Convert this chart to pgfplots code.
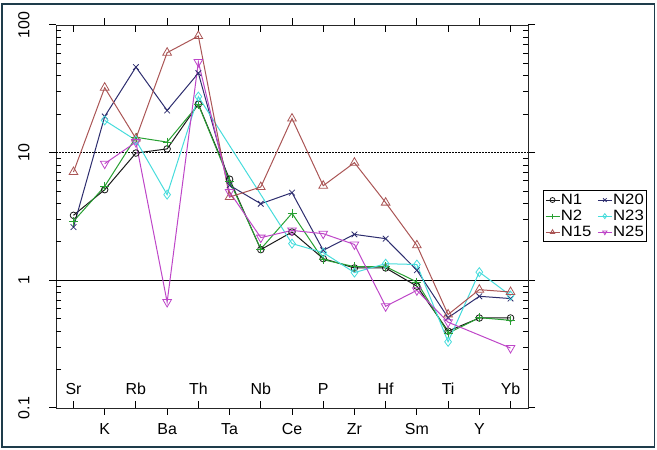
\documentclass[border=0pt]{standalone}
\usepackage{fontspec}
\setmainfont{Liberation Sans}
\newfontfamily\legfont{Liberation Sans}[FakeStretch=1.12]
\usepackage{pgfplots}
\pgfplotsset{compat=1.18}
\definecolor{cN1}{RGB}{25,25,25}
\definecolor{cN2}{RGB}{40,160,50}
\definecolor{cN15}{RGB}{170,85,85}
\definecolor{cN20}{RGB}{45,45,110}
\definecolor{cN23}{RGB}{70,220,220}
\definecolor{cN25}{RGB}{190,70,200}
\definecolor{frameC}{RGB}{30,60,75}
\begin{document}
\begin{tikzpicture}[x=1bp,y=1bp]
\useasboundingbox (0,0) rectangle (657,450);
\draw[frameC, line width=1.5bp] (2,3) rectangle (654.5,446);
\begin{axis}[
 at={(56bp,42bp)}, anchor=south west,
 scale only axis, width=472bp, height=383bp,
 xmin=0.44, xmax=15.56, ymode=log, ymin=0.1, ymax=100,
 font=\fontsize{16}{18}\selectfont,
 /pgf/number format/assume math mode=true,
 axis line style={line width=0.9bp, black!85},
 tick style={black, line width=1bp},
 tick align=outside,
 major tick length=7bp,
 xminorticks=false, yminorticks=false,
 xtick={2,4,...,14},
 xticklabels={K,Ba,Ta,Ce,Zr,Sm,Y},
 xticklabel style={yshift=-5bp},
 extra x ticks={1,3,...,15},
 extra x tick labels={Sr,Rb,Th,Nb,P,Hf,Ti,Yb},
 extra x tick style={major tick length=-7bp, xticklabel style={anchor=base, yshift=12bp}},
 ytick={0.1,1,10,100},
 yticklabels={0.1,1,10,100},
 yticklabel style={xshift=-16bp, rotate=90, anchor=south},
 extra y ticks={0.2,0.3,0.4,0.5,0.6,0.7,0.8,0.9,2,3,4,5,6,7,8,9,20,30,40,50,60,70,80,90},
 extra y tick labels={},
 extra y tick style={major tick length=-5bp},
 legend columns=2,
 legend style={at={(1.032,0.569)}, anchor=north west, draw=black, line width=0.8bp,
   inner sep=1.5bp, font=\fontsize{15}{15}\legfont,
   nodes={inner sep=0.8bp, text height=11.5bp, text depth=3bp},
   /tikz/every even column/.append style={column sep=5bp}},
 legend image code/.code={\draw[mark repeat=2,mark phase=2,mark size=2.5bp] plot coordinates {(0bp,0bp)(7bp,0bp)(14bp,0bp)};},
 legend cell align=left,
 every axis plot/.append style={line width=1bp},
]
\draw[black, line width=0.9bp, dash pattern=on 1.5bp off 1.5bp] (axis cs:0.44,10) -- (axis cs:15.56,10);
\draw[black, line width=1bp] (axis cs:0.44,1) -- (axis cs:15.56,1);
\addplot[cN1, mark=o, mark size=3.3bp, mark options={solid, line width=0.8bp}] coordinates {
(1,3.23)(2,5.13)(3,9.93)(4,10.7)(5,24)(6,6.2)(7,1.74)(8,2.39)(9,1.48)(10,1.25)(11,1.25)(12,0.90)(13,0.40)(14,0.507)(15,0.507)};
\addlegendentry{N1}
\addplot[cN20, mark=x, mark size=4bp, mark options={solid, line width=0.8bp}] coordinates {
(1,2.61)(2,19.2)(3,46.8)(4,21.4)(5,42)(6,5.55)(7,3.98)(8,4.86)(9,1.72)(10,2.29)(11,2.12)(12,1.2)(13,0.51)(14,0.75)(15,0.72)};
\addlegendentry{N20}
\addplot[cN2, mark=+, mark size=4.5bp, mark options={solid, line width=0.8bp}] coordinates {
(1,2.9)(2,5.45)(3,13.2)(4,12.1)(5,23.8)(6,6.0)(7,1.76)(8,3.35)(9,1.45)(10,1.28)(11,1.28)(12,0.97)(13,0.385)(14,0.51)(15,0.486)};
\addlegendentry{N2}
\addplot[cN23, mark=diamond, mark size=4.5bp, mark options={solid, line width=0.8bp}] coordinates {
(2,17.9)(3,12.5)(4,4.69)(5,27.5)(8,1.94)(9,1.65)(10,1.15)(11,1.35)(12,1.33)(13,0.33)(14,1.16)(15,0.76)};
\addlegendentry{N23}
\addplot[cN15, mark=triangle, mark size=5bp, mark options={solid, line width=0.8bp}] coordinates {
(1,7.05)(2,32.3)(3,12.9)(4,60.7)(5,81.9)(6,4.49)(7,5.38)(8,18.5)(9,5.51)(10,8.35)(11,4.06)(12,1.88)(13,0.54)(14,0.845)(15,0.81)};
\addlegendentry{N15}
\addplot[cN25, mark=triangle, mark size=5bp, mark options={solid, line width=0.8bp, rotate=180}] coordinates {
(2,8.2)(3,12.1)(4,0.676)(5,51.3)(6,4.92)(7,2.16)(8,2.46)(9,2.32)(10,1.91)(11,0.626)(12,0.835)(13,0.47)(15,0.295)};
\addlegendentry{N25}
\end{axis}
\end{tikzpicture}
\end{document}
